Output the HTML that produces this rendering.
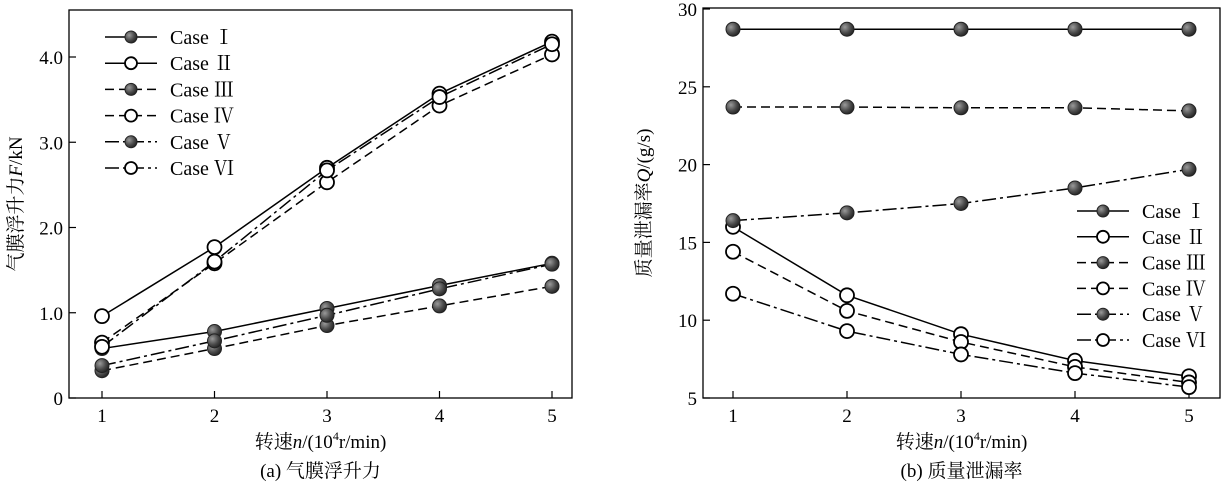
<!DOCTYPE html>
<html><head><meta charset="utf-8">
<style>
body{margin:0;background:#fff;}
svg{display:block;font-family:"Liberation Serif","Noto Serif CJK SC",serif;}
</style></head>
<body>
<svg id="chart" width="1222" height="491" viewBox="0 0 1222 491" xmlns="http://www.w3.org/2000/svg">
<defs>
<radialGradient id="ball" cx="0.35" cy="0.35" r="0.7">
<stop offset="0" stop-color="#9a9a9a"/><stop offset="0.6" stop-color="#4a4a4a"/><stop offset="1" stop-color="#222"/>
</radialGradient>
</defs>
</svg>
<script>
const categories=[1,2,3,4,5];
const caseNames=["Case Ⅰ","Case Ⅱ","Case Ⅲ","Case Ⅳ","Case Ⅴ","Case Ⅵ"];
// panel a: lift force F/kN
const liftI=[0.58,0.78,1.05,1.32,1.58];
const liftII=[0.96,1.77,2.70,3.57,4.18];
const liftIII=[0.32,0.58,0.85,1.08,1.31];
const liftIV=[0.65,1.58,2.53,3.43,4.03];
const liftV=[0.38,0.67,0.97,1.28,1.57];
const liftVI=[0.60,1.60,2.67,3.53,4.15];
const liftTicks=[0,1.0,2.0,3.0,4.0];
const liftTickLabels=["0","1.0","2.0","3.0","4.0"];
// panel b: leakage Q/(g/s)
const leakI=[28.7,28.7,28.7,28.7,28.7];
const leakII=[16.0,11.6,9.1,7.4,6.4];
const leakIII=[23.7,23.7,23.65,23.65,23.45];
const leakIV=[14.4,10.6,8.6,7.0,6.0];
const leakV=[16.4,16.9,17.5,18.5,19.7];
const leakVI=[11.7,9.3,7.8,6.6,5.7];
const leakTicks=[5,10,15,20,25,30];
const leakTickLabels=["5","10","15","20","25","30"];

const svg=document.getElementById('chart');
const NS="http://www.w3.org/2000/svg";
function el(tag,attrs,parent){const e=document.createElementNS(NS,tag);for(const k in attrs)e.setAttribute(k,attrs[k]);(parent||svg).appendChild(e);return e;}
const styles=[{fill:true,dash:""},{fill:false,dash:""},{fill:true,dash:"9,5"},{fill:false,dash:"9,5"},{fill:true,dash:"14,4,3,4"},{fill:false,dash:"14,4,3,4"}];

function panel(p){
  const g=el('g',{});
  
  
  const xs=v=>p.x1+(v-1)/(4)*(p.x5-p.x1);
  const ys=v=>p.yBot-(v-p.yMin)/(p.yMax-p.yMin)*(p.yBot-p.yTop);
  const frame=el('rect',{x:p.L,y:p.T,width:p.R-p.L,height:p.B-p.T,fill:'none',stroke:'#000','stroke-width':1.3},g);
  
  categories.forEach(c=>{
    const x=xs(c);
    el('line',{x1:x,x2:x,y1:p.B,y2:p.B-7,stroke:'#000','stroke-width':1.2},g);
    const t=el('text',{x:x,y:p.B+24,'text-anchor':'middle','font-size':19},g);t.textContent=c;
    
  });
  p.ticks.forEach((v,i)=>{
    const y=ys(v);
    el('line',{x1:p.L,x2:p.L+7,y1:y,y2:y,stroke:'#000','stroke-width':1.2},g);
    const t=el('text',{x:p.L-6,y:y+7,'text-anchor':'end','font-size':19},g);t.textContent=p.tickLabels[i];
    
  });
  p.series.forEach((s,i)=>{
    const st=styles[i];
    const pl=el('polyline',{points:s.map((v,j)=>xs(categories[j])+','+ys(v)).join(' '),fill:'none',stroke:'#000','stroke-width':1.5,'stroke-dasharray':st.dash},g);
    
  });
  p.series.forEach((s,i)=>{
    const st=styles[i];
    s.forEach((v,j)=>{
      const c=el('circle',{cx:xs(categories[j]),cy:ys(v),r:7,fill:st.fill?'url(#ball)':'#fff',stroke:st.fill?'#222':'#000','stroke-width':st.fill?1:1.8},g);
      
    });
  });
  // legend
  const lg=el('g',{},g);
  
  caseNames.forEach((n,i)=>{
    const st=styles[i];const y=p.legY+i*p.legDY;
    const e=el('g',{},lg);
    
    el('line',{x1:p.legX,x2:p.legX+52,y1:y,y2:y,stroke:'#000','stroke-width':1.5,'stroke-dasharray':st.dash},e);
    el('circle',{cx:p.legX+26,cy:y,r:6,fill:st.fill?'url(#ball)':'#fff',stroke:st.fill?'#222':'#000','stroke-width':st.fill?1:1.8},e);
    const t=el('text',{x:p.legX+65,y:y+7,'font-size':20},e);t.textContent=n;
  });
  const xt=el('text',{x:(p.L+p.R)/2,y:448,'text-anchor':'middle','font-size':19},g);
  xt.innerHTML='转速<tspan font-style="italic">n</tspan>/(10<tspan font-size="12" dy="-8">4</tspan><tspan dy="8">r/min)</tspan>';
  
  const cap=el('text',{x:(p.L+p.R)/2,y:477,'text-anchor':'middle','font-size':19},g);cap.textContent=p.caption;
  
  const yt=el('text',{transform:`translate(${p.ytX},${(p.T+p.B)/2}) rotate(-90)`,'text-anchor':'middle','font-size':19},g);
  yt.innerHTML=p.ytitle;
  
}
panel({name:'panel-a-lift-force',L:69,R:572,T:10,B:398,x1:102,x5:552,yMin:0,yMax:4,yBot:398,yTop:57,
  ticks:liftTicks,tickLabels:liftTickLabels,series:[liftI,liftII,liftIII,liftIV,liftV,liftVI],
  legX:105,legY:37,legDY:26.2,caption:'(a) 气膜浮升力',ytX:22,
  ytitle:'气膜浮升力<tspan font-style="italic">F</tspan>/kN'});
panel({name:'panel-b-mass-leakage',L:703,R:1220,T:8,B:398,x1:733,x5:1189,yMin:5,yMax:30,yBot:398,yTop:9,
  ticks:leakTicks,tickLabels:leakTickLabels,series:[leakI,leakII,leakIII,leakIV,leakV,leakVI],
  legX:1077,legY:211,legDY:25.8,caption:'(b) 质量泄漏率',ytX:650,
  ytitle:'质量泄漏率<tspan font-style="italic">Q</tspan>/(g/s)'});
</script>
</body></html>
